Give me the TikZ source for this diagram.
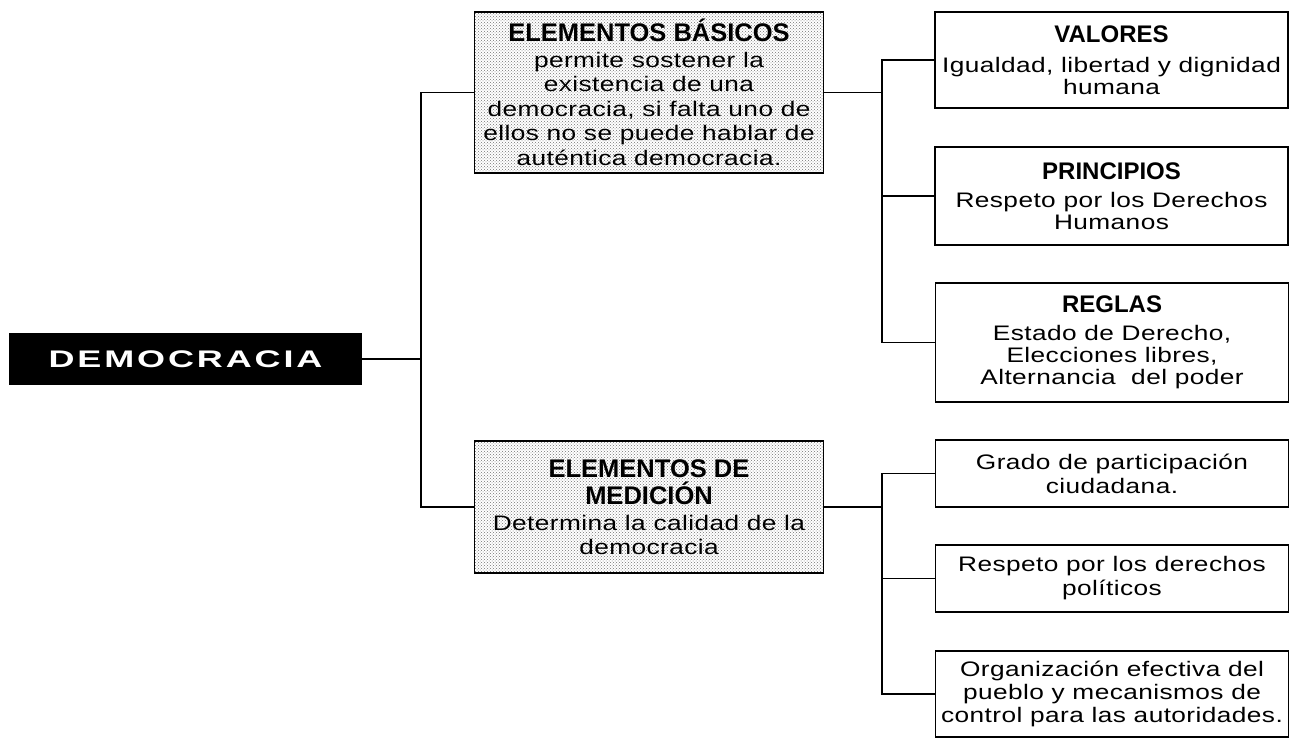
\documentclass[tikz,border=0pt]{standalone}
\usepackage{fontspec}
\setmainfont{Liberation Sans}
\newfontfamily\boxfont[FakeStretch=1.25,LetterSpace=2]{Liberation Sans}
\newfontfamily\demofont[FakeStretch=1.5,LetterSpace=12]{Liberation Sans}
\usetikzlibrary{positioning,patterns}
\newcommand{\boxtitle}[1]{{\normalfont\bfseries\fontsize{24}{28}\selectfont #1}}
\newcommand{\elemtitle}[1]{{\normalfont\bfseries\fontsize{25.5}{26}\selectfont #1}}

\begin{document}
\begin{tikzpicture}[x=1pt,y=-1pt,
    box/.style={shape=rectangle,draw,line width=1.5pt,inner sep=0pt,align=center,
      minimum width=353pt,font=\boxfont\fontsize{21}{22}\selectfont},
    elem/.style={box,minimum width=349pt,pattern=crosshatch dots,pattern color=black!55,
      font=\boxfont\fontsize{21}{24.5}\selectfont},
    conn/.style={line width=1.5pt}]
  \useasboundingbox (0,0) rectangle (1301,738);
  \node[fill=black,text=white,minimum width=353pt,minimum height=52pt,inner sep=0pt,
    font=\demofont\bfseries\fontsize{24}{26}\selectfont] (demo) at (185.5,359) {DEMOCRACIA};
  \node[elem,minimum height=161pt] (basicos) at (649,92.5)
    {\elemtitle{ELEMENTOS BÁSICOS}\\[1pt] permite sostener la\\ existencia de una\\
     democracia, si falta uno de\\ ellos no se puede hablar de\\ auténtica democracia.};
  \node[elem,minimum height=132pt] (medicion) at (649,507)
    {\elemtitle{ELEMENTOS DE}\\[3pt] \elemtitle{MEDICIÓN}\\[1pt] Determina la calidad de la\\ democracia};
  \node[box,minimum height=96pt] (valores) at (1111.5,60)
    {\boxtitle{VALORES}\\[8pt] Igualdad, libertad y dignidad\\ humana};
  \node[box,minimum height=98pt] (principios) at (1111.5,196)
    {\boxtitle{PRINCIPIOS}\\[6pt] Respeto por los Derechos\\ Humanos};
  \node[box,minimum height=119pt] (reglas) at (1112,342.5)
    {\boxtitle{REGLAS}\\[6pt] Estado de Derecho,\\ Elecciones libres,\\ Alternancia\ \ del poder};
  \node[box,minimum height=67pt,font=\boxfont\fontsize{21}{24}\selectfont] (grado) at (1112,473.5)
    {Grado de participación\\ ciudadana.};
  \node[box,minimum height=67pt,font=\boxfont\fontsize{21}{24}\selectfont] (respeto) at (1112,578.5)
    {Respeto por los derechos\\ políticos};
  \node[box,minimum height=86pt,font=\boxfont\fontsize{21}{23}\selectfont] (organizacion) at (1112,694)
    {Organización efectiva del\\ pueblo y mecanismos de\\ control para las autoridades.};
  \coordinate (j1) at (421,0);
  \coordinate (j2) at (882,0);
  \draw[conn] (demo.east) -- (demo.east -| j1);
  \draw[conn] (basicos.west) -- (basicos.west -| j1) |- (medicion.west);
  \draw[conn] (basicos.east) -- (basicos.east -| j2);
  \draw[conn] (valores.west) -- (valores.west -| j2) |- (reglas.west);
  \draw[conn] (principios.west) -- (principios.west -| j2);
  \draw[conn] (medicion.east) -- (medicion.east -| j2);
  \draw[conn] (grado.west) -- (grado.west -| j2) |- (organizacion.west);
  \draw[conn] (respeto.west) -- (respeto.west -| j2);
\end{tikzpicture}
\end{document}
